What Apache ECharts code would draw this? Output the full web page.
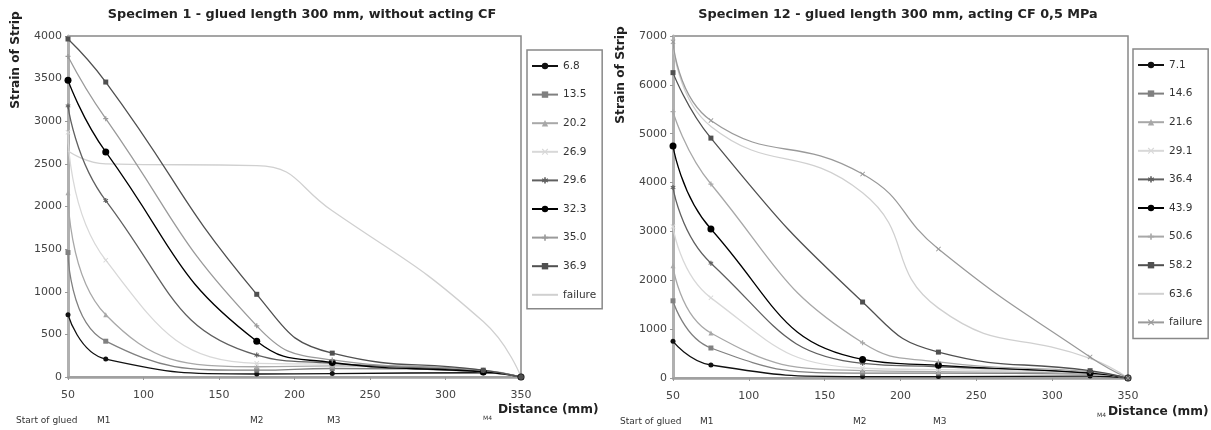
<!DOCTYPE html>
<html>
<head>
<meta charset="utf-8">
<script src="https://cdn.jsdelivr.net/npm/echarts@6/dist/echarts.min.js"></script>
<style>html,body{margin:0;padding:0;background:#fff}#c{width:1211px;height:430px}</style>
</head>
<body>
<div id="c"></div>
<script>
// ---------- data ----------
const distances = [50, 75, 175, 225, 325, 350];

// Specimen 1 (left chart)
const leftNames = ['6.8', '13.5', '20.2', '26.9', '29.6', '32.3', '35.0', '36.9', 'failure'];
const L_6_8  = [730, 210, 35, 40, 50, 0];
const L_13_5 = [1460, 420, 80, 100, 60, 0];
const L_20_2 = [2160, 730, 120, 130, 70, 0];
const L_26_9 = [2870, 1370, 160, 150, 60, 0];
const L_29_6 = [3180, 2070, 258, 160, 70, 0];
const L_32_3 = [3480, 2640, 420, 170, 60, 0];
const L_35_0 = [3760, 3030, 600, 200, 80, 0];
const L_36_9 = [3965, 3460, 970, 280, 80, 0];
const L_fail = [2650, 2500, 2480, 1950, 650, 0];

// Specimen 12 (right chart)
const rightNames = ['7.1', '14.6', '21.6', '29.1', '36.4', '43.9', '50.6', '58.2', '63.6', 'failure'];
const R_7_1  = [750, 266, 30, 30, 40, 0];
const R_14_6 = [1580, 614, 100, 100, 80, 0];
const R_21_6 = [2300, 920, 150, 130, 90, 0];
const R_29_1 = [3100, 1640, 200, 170, 100, 0];
const R_36_4 = [3900, 2350, 300, 230, 110, 0];
const R_43_9 = [4750, 3050, 380, 260, 100, 0];
const R_50_6 = [5450, 3970, 720, 330, 130, 0];
const R_58_2 = [6250, 4910, 1555, 530, 150, 0];
const R_63_6 = [6850, 5150, 3790, 1430, 400, 0];
const R_fail = [6880, 5270, 4175, 2640, 430, 0];

const leftTitle = 'Specimen 1 - glued length 300 mm, without acting CF';
const rightTitle = 'Specimen 12 - glued length 300 mm, acting CF 0,5 MPa';
const yTitle = 'Strain of Strip';
const xTitle = 'Distance (mm)';
const gaugeLabels = ['Start of glued', 'M1', 'M2', 'M3', 'M4'];

// ---------- styles ----------
const PLUS = 'path://M3,0H5V3H8V5H5V8H3V5H0V3H3Z';
const CROSS = 'path://M0,1L1,0L4,3L7,0L8,1L5,4L8,7L7,8L4,5L1,8L0,7L3,4Z';
const DASH = 'path://M0,3H8V5H0Z';
const STAR = 'path://M3,0H5V2.6L7.3,1.3L8,2.6L5.8,4L8,5.4L7.3,6.7L5,5.4V8H3V5.4L0.7,6.7L0,5.4L2.2,4L0,2.6L0.7,1.3L3,2.6Z';

const leftData = [L_6_8, L_13_5, L_20_2, L_26_9, L_29_6, L_32_3, L_35_0, L_36_9, L_fail];
const leftStyle = [
  {c: '#111', s: 'circle', z: 5},
  {c: '#808080', s: 'rect', z: 5},
  {c: '#a8a8a8', s: 'triangle', z: 6},
  {c: '#d8d8d8', s: CROSS, z: 6},
  {c: '#606060', s: STAR, z: 6},
  {c: '#000', s: 'circle', z: 7, big: true},
  {c: '#9a9a9a', s: PLUS, z: 7},
  {c: '#505050', s: DASH, z: 7},
  {c: '#d0d0d0', s: 'none', z: 5}
];
const rightData = [R_7_1, R_14_6, R_21_6, R_29_1, R_36_4, R_43_9, R_50_6, R_58_2, R_63_6, R_fail];
const rightStyle = [
  {c: '#111', s: 'circle', z: 5},
  {c: '#808080', s: 'rect', z: 5},
  {c: '#a8a8a8', s: 'triangle', z: 6},
  {c: '#d8d8d8', s: CROSS, z: 6},
  {c: '#606060', s: STAR, z: 6},
  {c: '#000', s: 'circle', z: 7, big: true},
  {c: '#a8a8a8', s: PLUS, z: 7},
  {c: '#505050', s: DASH, z: 7},
  {c: '#d0d0d0', s: 'none', z: 5},
  {c: '#9a9a9a', s: CROSS, z: 7}
];

const FONT = 'DejaVu Sans';

function buildSeries(names, data, styles, idx, suffix) {
  return names.map((n, i) => ({
    name: n + suffix,
    type: 'line',
    xAxisIndex: idx, yAxisIndex: idx,
    smooth: 0.5,
    data: distances.map((d, k) => [d, data[i][k]]),
    symbol: styles[i].s,
    symbolSize: styles[i].big ? 7 : 5,
    showSymbol: styles[i].s !== 'none',
    color: styles[i].c,
    lineStyle: {color: styles[i].c, width: 1.3},
    itemStyle: {color: styles[i].c},
    z: styles[i].z,
    animation: false
  }));
}

function xAxis(idx) {
  return {
    type: 'value', gridIndex: idx, min: 50, max: 350, interval: 50,
    axisLine: {show: true, onZero: false, lineStyle: {color: '#a0a0a0', width: 2.5}},
    axisTick: {show: true, length: 3, lineStyle: {color: '#999'}},
    axisLabel: {fontFamily: FONT, fontSize: 11, color: '#444', margin: 13, formatter: v => String(v)},
    splitLine: {show: false}
  };
}
function yAxis(idx, max, interval) {
  return {
    type: 'value', gridIndex: idx, min: 0, max: max, interval: interval,
    axisLine: {show: true, onZero: false, lineStyle: {color: '#b0b0b0', width: 3}},
    axisTick: {show: true, length: 3, lineStyle: {color: '#999'}},
    axisLabel: {fontFamily: FONT, fontSize: 11, color: '#444', margin: 6, formatter: v => String(v)},
    splitLine: {show: false}
  };
}

function legend(names, styles, left, top, suffix, padBottom) {
  return {
    orient: 'vertical', left: left, top: top,
    data: names.map((n, i) => styles[i].s === 'none'
      ? {name: n + suffix, itemStyle: {opacity: 0}}
      : {name: n + suffix}),
    formatter: (name) => name.trim(),
    itemWidth: 26, itemHeight: 8, itemGap: 16.6,
    padding: [10, 6, padBottom, 4],
    borderColor: '#888', borderWidth: 1.5, borderRadius: 0,
    textStyle: {fontFamily: FONT, fontSize: 10.5, color: '#333', lineHeight: 12},
    selectedMode: false
  };
}

const titleStyle = {fontFamily: FONT, fontSize: 12.8, fontWeight: 'bold', color: '#222'};
const axTitle = {fontFamily: FONT, fontSize: 12.2, fontWeight: 'bold', fill: '#222', verticalAlign: 'middle'};
const smallStyle = {fontFamily: FONT, fontSize: 9, fill: '#333', align: 'left', verticalAlign: 'middle'};

function textEl(text, x, y, style, extra) {
  return Object.assign({
    type: 'text', x: x, y: y, silent: true,
    style: Object.assign({text: text}, style)
  }, extra || {});
}

const graphics = [
  textEl(yTitle, 16, 60, Object.assign({align: 'center'}, axTitle), {rotation: Math.PI / 2}),
  textEl(yTitle, 621, 75, Object.assign({align: 'center'}, axTitle), {rotation: Math.PI / 2}),
  textEl(xTitle, 498, 410, Object.assign({align: 'left'}, axTitle)),
  textEl(xTitle, 1108, 412, Object.assign({align: 'left'}, axTitle)),
  textEl(gaugeLabels[0], 16, 421, smallStyle),
  textEl(gaugeLabels[1], 97, 421, smallStyle),
  textEl(gaugeLabels[2], 250, 421, smallStyle),
  textEl(gaugeLabels[3], 327, 421, smallStyle),
  textEl(gaugeLabels[4], 483, 418, Object.assign({}, smallStyle, {fontSize: 6})),
  textEl(gaugeLabels[0], 620, 422, smallStyle),
  textEl(gaugeLabels[1], 700, 422, smallStyle),
  textEl(gaugeLabels[2], 853, 422, smallStyle),
  textEl(gaugeLabels[3], 933, 422, smallStyle),
  textEl(gaugeLabels[4], 1097, 415, Object.assign({}, smallStyle, {fontSize: 6}))
];

const chart = echarts.init(document.getElementById('c'), null, {renderer: 'canvas'});
chart.setOption({
  backgroundColor: '#fff',
  animation: false,
  title: [
    {text: leftTitle, left: 302, top: 8, textAlign: 'center', textStyle: titleStyle, padding: 0},
    {text: rightTitle, left: 898, top: 8, textAlign: 'center', textStyle: titleStyle, padding: 0}
  ],
  grid: [
    {left: 68, top: 36, width: 453, height: 341, show: true, borderColor: '#888', borderWidth: 1.5, backgroundColor: 'transparent'},
    {left: 673, top: 36, width: 455, height: 342, show: true, borderColor: '#888', borderWidth: 1.5, backgroundColor: 'transparent'}
  ],
  xAxis: [xAxis(0), xAxis(1)],
  yAxis: [yAxis(0, 4000, 500), yAxis(1, 7000, 1000)],
  legend: [legend(leftNames, leftStyle, 527, 50, '', 8), legend(rightNames, rightStyle, 1133, 49, ' ', 10)],
  series: buildSeries(leftNames, leftData, leftStyle, 0, '')
    .concat(buildSeries(rightNames, rightData, rightStyle, 1, ' ')),
  graphic: graphics
});
</script>
</body>
</html>
